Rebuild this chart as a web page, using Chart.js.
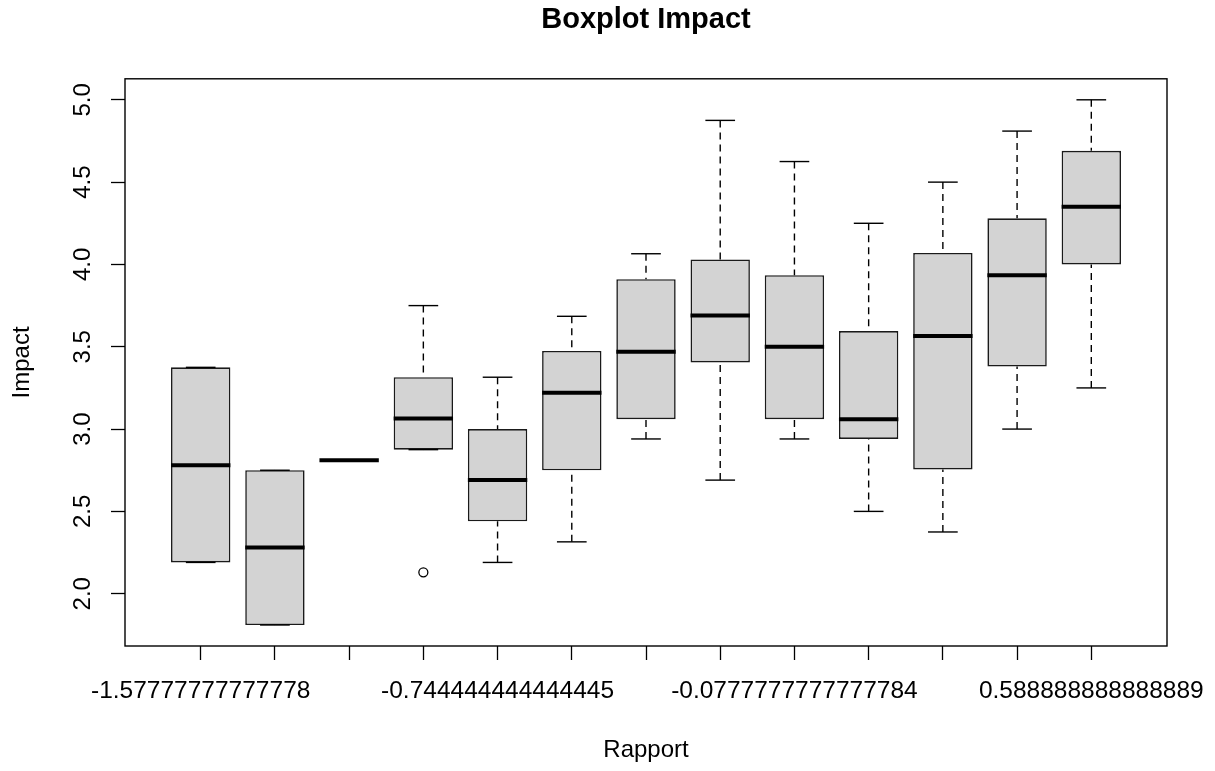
<!DOCTYPE html>
<html lang="fr">
<head>
<meta charset="UTF-8">
<title>Boxplot Impact</title>
<script src="https://cdn.jsdelivr.net/npm/chart.js"></script>
<style>
  body { margin: 0; padding: 0; background: #fff; }
  canvas { display: block; }
</style>
</head>
<body>
<canvas id="boxChart" width="1215" height="771"></canvas>
<script>
// group labels (R only printed the ones that did not overlap)
const rapportLabels = [
  '-1.57777777777778', '', '', '', '-0.744444444444445', '', '', '',
  '-0.0777777777777784', '', '', '', '0.588888888888889'
];

// five-number summaries, one entry per group
const whiskerLow  = [2.19, 1.81, 2.81, 2.875, 2.19, 2.315, 2.94, 2.69, 2.94, 2.50, 2.375, 3.00, 3.25];
const q1          = [2.19, 1.81, 2.81, 2.875, 2.44, 2.75, 3.06, 3.405, 3.06, 2.94, 2.755, 3.38, 4.00];
const medians     = [2.78, 2.28, 2.81, 3.065, 2.69, 3.22, 3.47, 3.69, 3.50, 3.06, 3.565, 3.935, 4.35];
const q3          = [3.375, 2.75, 2.81, 3.315, 3.00, 3.475, 3.91, 4.03, 3.935, 3.595, 4.07, 4.28, 4.69];
const whiskerHigh = [3.375, 2.75, 2.81, 3.75, 3.315, 3.685, 4.065, 4.875, 4.625, 4.25, 4.50, 4.81, 5.00];

// outliers (group number, value)
const outlierGroup = [4];
const outlierValue = [2.13];

const yTicks = [2.0, 2.5, 3.0, 3.5, 4.0, 4.5, 5.0];

// R style axis ranges: 4% extension
const nGroups = rapportLabels.length;
const xMin = 0.5 - 0.04 * nGroups;
const xMax = nGroups + 0.5 + 0.04 * nGroups;
const allVals = whiskerLow.concat(whiskerHigh, outlierValue);
const lo = Math.min(...allVals), hi = Math.max(...allVals);
const yMin = lo - 0.04 * (hi - lo);
const yMax = hi + 0.04 * (hi - lo);

Chart.defaults.font.family = "'Liberation Sans', Arial, sans-serif";
Chart.defaults.color = '#000';

// whiskers, staples, medians and the frame
const boxplotExtras = {
  id: 'boxplotExtras',
  afterDatasetsDraw(chart) {
    const ctx = chart.ctx;
    const yScale = chart.scales.y;
    const bars = chart.getDatasetMeta(0).data;
    const line = (x1, y1, x2, y2) => {
      ctx.beginPath();
      ctx.moveTo(x1, y1);
      ctx.lineTo(x2, y2);
      ctx.stroke();
    };
    ctx.save();
    ctx.strokeStyle = '#000';
    bars.forEach((bar, i) => {
      const x = bar.x;
      const half = bar.width / 2;
      const yLo = yScale.getPixelForValue(whiskerLow[i]);
      const yQ1 = yScale.getPixelForValue(q1[i]);
      const yMed = yScale.getPixelForValue(medians[i]);
      const yQ3 = yScale.getPixelForValue(q3[i]);
      const yHi = yScale.getPixelForValue(whiskerHigh[i]);

      ctx.lineWidth = 1.4;
      ctx.setLineDash([7, 5]);
      line(x, yHi, x, yQ3);
      line(x, yLo, x, yQ1);
      ctx.setLineDash([]);
      line(x - half / 2, yHi, x + half / 2, yHi);
      line(x - half / 2, yLo, x + half / 2, yLo);

      ctx.lineWidth = 4;
      line(x - half, yMed, x + half, yMed);
    });
    const a = chart.chartArea;
    ctx.lineWidth = 1.4;
    ctx.strokeRect(a.left, a.top, a.right - a.left, a.bottom - a.top);
    ctx.restore();
  }
};

const ctx = document.getElementById('boxChart').getContext('2d');
new Chart(ctx, {
  type: 'bar',
  data: {
    datasets: [
      {
        label: 'Impact',
        data: q1.map((v, i) => ({ x: i + 1, y: [v, q3[i]] })),
        backgroundColor: '#d3d3d3',
        borderColor: '#1a1a1a',
        borderWidth: 1.6,
        borderSkipped: false,
        categoryPercentage: 1,
        barPercentage: 0.8
      },
      {
        type: 'scatter',
        label: 'Outliers',
        data: outlierGroup.map((g, i) => ({ x: g, y: outlierValue[i] })),
        pointStyle: 'circle',
        pointRadius: 4.5,
        borderWidth: 1.3,
        borderColor: '#000',
        backgroundColor: 'rgba(0,0,0,0)'
      }
    ]
  },
  options: {
    responsive: false,
    animation: false,
    layout: { padding: { left: 0, right: 48, top: 0, bottom: 0 } },
    plugins: {
      legend: { display: false },
      tooltip: { enabled: false },
      title: {
        display: true,
        text: 'Boxplot Impact',
        fullSize: false,
        color: '#000',
        font: { size: 29, weight: 'bold' },
        padding: { top: 3, bottom: 41 }
      }
    },
    scales: {
      x: {
        type: 'linear',
        min: xMin,
        max: xMax,
        offset: false,
        afterBuildTicks: axis => { axis.ticks = rapportLabels.map((_, i) => ({ value: i + 1 })); },
        afterFit: axis => {
          axis.height = 125;
          axis.paddingLeft = 0;
          axis.paddingRight = 0;
        },
        grid: { drawOnChartArea: false, drawTicks: true, tickLength: 14, tickColor: '#000', tickWidth: 1.3, offset: false },
        border: { display: false },
        ticks: {
          autoSkip: false,
          maxRotation: 0,
          minRotation: 0,
          padding: 17,
          color: '#000',
          font: { size: 24.5 },
          callback: v => rapportLabels[Math.round(v) - 1]
        },
        title: { display: true, text: 'Rapport', color: '#000', font: { size: 24 }, padding: { top: 0, bottom: 6 } }
      },
      y: {
        type: 'linear',
        min: yMin,
        max: yMax,
        afterBuildTicks: axis => { axis.ticks = yTicks.map(v => ({ value: v })); },
        afterFit: axis => { axis.width = 125; },
        grid: { drawOnChartArea: false, drawTicks: true, tickLength: 14, tickColor: '#000', tickWidth: 1.3 },
        border: { display: false },
        ticks: {
          autoSkip: false,
          minRotation: 90,
          maxRotation: 90,
          crossAlign: 'center',
          padding: 11,
          color: '#000',
          font: { size: 24 },
          callback: v => v.toFixed(1)
        },
        title: { display: true, text: 'Impact', color: '#000', font: { size: 24 }, padding: { top: 8, bottom: 0 } }
      }
    }
  },
  plugins: [boxplotExtras]
});
</script>
</body>
</html>
